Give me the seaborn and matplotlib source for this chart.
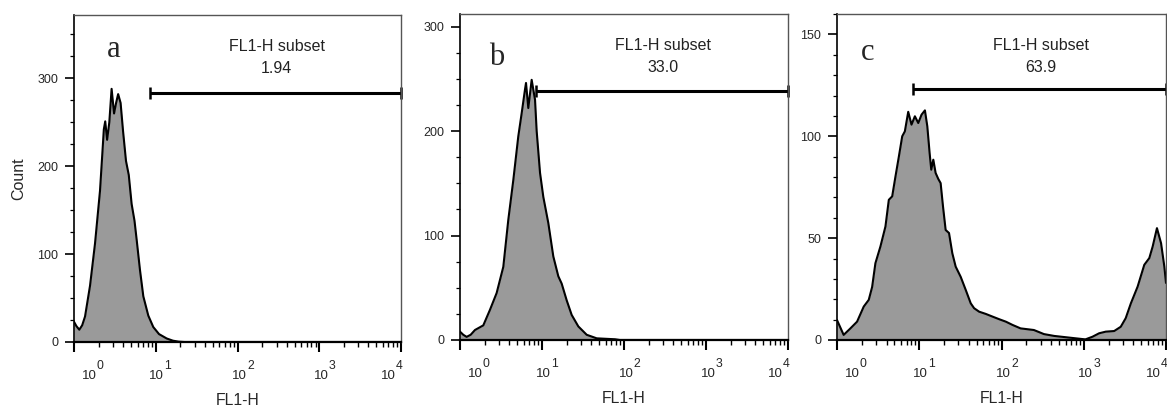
import matplotlib
matplotlib.use("Agg")

import matplotlib.pyplot as plt
import seaborn as sns
import numpy as np
import pandas as pd
from matplotlib.ticker import LogLocator, MultipleLocator, NullFormatter

# histogram outlines, x in decades of FL1-H (log10), y = count
a_log = [0.00, 0.03, 0.065, 0.10, 0.135, 0.196, 0.257, 0.318, 0.345, 0.365, 0.382,
         0.405, 0.432, 0.460, 0.49, 0.515, 0.540, 0.57, 0.60, 0.636, 0.67, 0.705,
         0.74, 0.767, 0.807, 0.848, 0.909, 0.97, 1.04, 1.134, 1.21, 1.28, 1.35, 4.0]
a_count = [23, 18, 14, 19, 29, 64, 112, 172, 212, 242, 251,
           230, 250, 288, 260, 272, 282, 272, 240, 206, 190, 157,
           138, 116, 82, 52, 30, 17, 9, 4, 1.5, 0.4, 0, 0]

b_log = [0, 0.04, 0.081, 0.13, 0.183, 0.284, 0.366, 0.447, 0.528, 0.589, 0.65,
         0.711, 0.752, 0.793, 0.805, 0.833, 0.874, 0.915, 0.935, 0.976, 1.016,
         1.077, 1.138, 1.199, 1.24, 1.301, 1.362, 1.443, 1.545, 1.667, 1.89, 1.95, 4.0]
b_count = [8, 5, 3, 5, 9.6, 14, 29, 45, 70, 115, 153,
           195, 217, 240, 246, 222, 249, 230, 200, 160, 137,
           112, 80, 61, 54, 38, 24, 13, 5, 1.6, 0.7, 0, 0]

c_log = [0, 0.081, 0.163, 0.244, 0.325, 0.386, 0.427, 0.467, 0.528, 0.589, 0.63,
         0.671, 0.711, 0.752, 0.793, 0.825, 0.866, 0.906, 0.947, 0.988, 1.028,
         1.069, 1.098, 1.126, 1.146, 1.171, 1.199, 1.232, 1.26, 1.289, 1.321,
         1.362, 1.402, 1.443, 1.504, 1.565, 1.626, 1.667, 1.728, 1.809, 1.89,
         1.972, 2.053, 2.134, 2.232, 2.394, 2.516, 2.64, 2.84, 3.02, 3.106,
         3.187, 3.268, 3.37, 3.45, 3.51, 3.573, 3.655, 3.736, 3.797, 3.838,
         3.89, 3.94, 3.98, 4.0]
c_count = [9.8, 2.5, 5.7, 9, 16.4, 19.7, 26, 37.7, 45.9, 55.7, 68.8,
           70.5, 80.3, 90, 100, 102.4, 112, 105.7, 109.8, 106.5, 110.6,
           112.7, 104.9, 91.8, 83.6, 88.5, 82, 79, 77, 65.5, 54,
           52.5, 42.6, 36, 31, 24.6, 18, 15.6, 13.9, 12.8, 11.5,
           10.2, 9, 7.4, 5.7, 4.9, 2.9, 2, 1.1, 0.3, 1.6,
           3.3, 4.1, 4.4, 6.5, 10.7, 18, 26.2, 36.9, 40.2, 45.9,
           54.9, 47.5, 36, 28]

letters = ["a", "b", "c"]
subset_pct = ["1.94", "33.0", "63.9"]
gate_start = [10 ** 0.93, 10 ** 0.927, 10 ** 0.927]
gate_y = [283, 238, 123]
y_max = [372, 312, 160]
y_major = [100, 100, 50]
y_minor = [25, 25, 10]
decades = [0, 1, 2, 3, 4]

sns.set_style("ticks")
plt.rcParams["font.family"] = ["Liberation Sans", "DejaVu Sans"]

fig = plt.figure(figsize=(11.67, 4.09), dpi=100)
boxes = [
    [74 / 1167, 67 / 409, 327 / 1167, 327 / 409],
    [460 / 1167, 69 / 409, 328 / 1167, 326 / 409],
    [837 / 1167, 69 / 409, 329 / 1167, 326 / 409],
]
letter_xy = [(0.121, 0.872), (0.113, 0.844), (0.093, 0.859)]
label_dx = [15, 1, 2, 2, -13]  # px shift of decade labels

panels = [(a_log, a_count), (b_log, b_count), (c_log, c_count)]

for i, (logs, counts) in enumerate(panels):
    ax = fig.add_axes(boxes[i])
    df = pd.DataFrame({"FL1-H": 10 ** np.array(logs), "Count": counts})

    ax.fill_between(df["FL1-H"], 0, df["Count"], color="#9a9a9a", lw=0)
    sns.lineplot(data=df, x="FL1-H", y="Count", ax=ax, color="black",
                 lw=1.5, sort=False, estimator=None)

    ax.set_xscale("log")
    ax.set_xlim(1, 1e4)
    ax.set_ylim(0, y_max[i])

    ax.xaxis.set_major_locator(LogLocator(base=10, numticks=10))
    ax.xaxis.set_minor_locator(LogLocator(base=10, subs=np.arange(2, 10), numticks=20))
    ax.xaxis.set_major_formatter(NullFormatter())
    ax.xaxis.set_minor_formatter(NullFormatter())
    ax.yaxis.set_major_locator(MultipleLocator(y_major[i]))
    ax.yaxis.set_minor_locator(MultipleLocator(y_minor[i]))

    ax.tick_params(axis="x", which="major", length=7, width=1.5, color="black")
    ax.tick_params(axis="x", which="minor", length=3.5, width=1, color="black")
    ax.tick_params(axis="y", which="major", length=6.5, width=1.2, color="black",
                   labelsize=9, pad=5)
    ax.tick_params(axis="y", which="minor", length=3.2, width=0.9, color="black")

    for side in ["top", "right"]:
        ax.spines[side].set_color("#555555")
        ax.spines[side].set_linewidth(1.0)
    ax.spines["left"].set_color("black")
    ax.spines["left"].set_linewidth(1.2)
    ax.spines["bottom"].set_color("black")
    ax.spines["bottom"].set_linewidth(1.6)

    # decade labels, FlowJo style
    for k, dx in zip(decades, label_dx):
        ax.annotate("10", xy=(10 ** k, 0), xycoords=ax.get_xaxis_transform(),
                    xytext=(dx * 0.72, -34 * 0.72), textcoords="offset points",
                    ha="center", va="center", fontsize=9.5, annotation_clip=False)
        ax.annotate(str(k), xy=(10 ** k, 0), xycoords=ax.get_xaxis_transform(),
                    xytext=((dx + 11) * 0.72, -24 * 0.72), textcoords="offset points",
                    ha="center", va="center", fontsize=8.8, annotation_clip=False)

    ax.set_xlabel("FL1-H", fontsize=11.3, va="top")
    ax.xaxis.set_label_coords(0.5, -0.155)
    if i == 0:
        ax.set_ylabel("Count", fontsize=11.5)
        ax.yaxis.set_label_coords(-0.145, 0.5)
    else:
        ax.set_ylabel("")

    # gate marker
    ax.plot([gate_start[i], 1e4], [gate_y[i], gate_y[i]], color="black", lw=2.2,
            marker="|", ms=9, mew=1.8, clip_on=False, solid_capstyle="butt")

    ax.text(0.62, 0.903, "FL1-H subset", transform=ax.transAxes, ha="center",
            va="center", fontsize=11.5, color="#222222")
    ax.text(0.62, 0.836, subset_pct[i], transform=ax.transAxes, ha="center",
            va="center", fontsize=11.5, color="#222222")
    ax.text(letter_xy[i][0], letter_xy[i][1], letters[i], transform=ax.transAxes,
            ha="center", va="baseline", fontsize=22, family="Liberation Serif")

fig.savefig("out.png", dpi=100)
plt.close(fig)
